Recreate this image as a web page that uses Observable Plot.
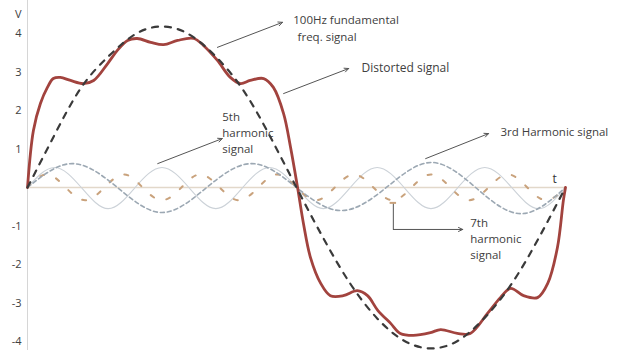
<!DOCTYPE html>
<html>
<head>
<meta charset="utf-8">
<script src="https://cdn.jsdelivr.net/npm/d3@7"></script>
<script src="https://cdn.jsdelivr.net/npm/@observablehq/plot@0.6"></script>
<style>
  body { margin: 0; background: #fff; }
  #chart svg { display: block; }
</style>
</head>
<body>
<div id="chart"></div>
<script>
// One 10 ms period of a 100 Hz supply voltage and its harmonic content (time in ms, volts).

const yTicks = [4, 3, 2, 1, -1, -2, -3, -4];

// 100 Hz fundamental
const fundamentalT = [0, 0.5, 1, 1.5, 2, 2.5, 3, 3.5, 4, 4.5, 5, 5.5, 6, 6.5, 7, 7.5, 8, 8.5, 9, 9.5, 10];
const fundamentalV = [0, 1.36, 2.6, 3.4, 3.98, 4.18, 3.98, 3.4, 2.55, 1.35, 0, -1.32, -2.5, -3.4, -3.98, -4.18, -3.98, -3.38, -2.5, -1.32, 0];

// distorted waveform
const distortedT = [0, 0.11, 0.24, 0.37, 0.48, 0.61, 0.8, 1.04, 1.23, 1.49, 1.67, 1.86, 2.04, 2.29, 2.53, 2.79, 3.09, 3.27, 3.53, 3.77, 3.96, 4.14, 4.39, 4.57, 4.76, 4.89, 5.02,
                    5.13, 5.26, 5.45, 5.63, 5.87, 6.13, 6.32, 6.51, 6.75, 6.93, 7.17, 7.49, 7.68, 7.99, 8.23, 8.55, 8.79, 8.98, 9.22, 9.48, 9.67, 9.85, 9.96, 10];
const distortedV = [0, 1.48, 2.18, 2.6, 2.83, 2.86, 2.78, 2.7, 2.78, 3.22, 3.56, 3.82, 3.87, 3.77, 3.71, 3.82, 3.87, 3.69, 3.3, 2.86, 2.7, 2.78, 2.83, 2.6, 1.92, 1.04, 0,
                    -0.94, -1.82, -2.49, -2.81, -2.81, -2.68, -2.81, -3.19, -3.53, -3.79, -3.84, -3.77, -3.69, -3.79, -3.79, -3.27, -2.86, -2.62, -2.81, -2.86, -2.49, -1.56, -0.34, 0];

// 3rd harmonic (zero crossings and peaks)
const thirdT = [0, 0.83, 1.67, 2.5, 3.33, 4.17, 5, 5.83, 6.67, 7.5, 8.33, 9.17, 10];
const thirdV = [0, 0.62, 0, -0.65, 0, 0.62, 0, -0.6, 0, 0.65, 0, -0.68, 0];

// 5th harmonic
const fifthT = [0, 0.5, 1, 1.5, 2, 2.5, 3, 3.5, 4, 4.5, 5, 5.5, 6, 6.5, 7, 7.5, 8, 8.5, 9, 9.5, 10];
const fifthV = [0, 0.52, 0, -0.55, 0, 0.52, 0, -0.55, 0, 0.52, 0, -0.55, 0, 0.52, 0, -0.55, 0, 0.52, 0, -0.55, 0];

// 7th harmonic
const seventhT = [0, 0.36, 0.71, 1.07, 1.43, 1.79, 2.14, 2.5, 2.86, 3.21, 3.57, 3.93, 4.29, 4.64, 5,
                  5.36, 5.71, 6.07, 6.43, 6.79, 7.14, 7.5, 7.86, 8.21, 8.57, 8.93, 9.29, 9.64, 10];
const seventhV = [0, 0.34, 0, -0.33, 0, 0.34, 0, -0.33, 0, 0.34, 0, -0.33, 0, 0.34, 0,
                  -0.33, 0, 0.34, 0, -0.33, 0, 0.34, 0, -0.33, 0, 0.34, 0, -0.33, 0];

// callout labels and their pointers
const labels = [
  {t: 4.94, v: 4.34, text: "100Hz fundamental"},
  {t: 5.02, v: 3.9, text: "freq. signal"},
  {t: 6.21, v: 3.09, text: "Distorted signal"},
  {t: 3.62, v: 1.83, text: "5th"},
  {t: 3.62, v: 1.41, text: "harmonic"},
  {t: 3.62, v: 0.99, text: "signal"},
  {t: 8.79, v: 1.43, text: "3rd Harmonic signal"},
  {t: 8.23, v: -0.93, text: "7th"},
  {t: 8.23, v: -1.35, text: "harmonic"},
  {t: 8.23, v: -1.77, text: "signal"}
];
const pointers = [
  {t1: 3.53, v1: 3.64, t2: 4.74, v2: 4.29},
  {t1: 4.76, v1: 2.44, t2: 5.97, v2: 3.09},
  {t1: 2.42, v1: 0.62, t2: 3.62, v2: 1.27},
  {t1: 7.4, v1: 0.75, t2: 8.57, v2: 1.4},
  {t1: 6.8, v1: -1.09, t2: 8.09, v2: -1.09}
];
const bracket = [{t1: 6.8, v1: -0.4, t2: 6.8, v2: -1.09}];
const bracketCap = [{t1: 6.74, t2: 6.86, v: -0.4}];

const rows = (ts, vs) => ts.map((t, i) => ({t, v: vs[i]}));

const chart = Plot.plot({
  width: 630,
  height: 350,
  marginLeft: 27,
  marginRight: 65,
  marginTop: 0,
  marginBottom: 0,
  x: {domain: [0, 10], axis: null},
  y: {domain: [-4.234, 4.857], axis: null},
  style: {fontFamily: "'Open Sans', sans-serif", fontSize: "12px", color: "#404040", background: "#fff"},
  marks: [
    Plot.ruleX([0], {stroke: "#d6d6d6", strokeWidth: 1}),
    Plot.ruleY([0], {x1: 0, x2: 10, stroke: "#e2d8ca", strokeWidth: 1.5}),
    Plot.axisY({ticks: yTicks, tickSize: 0, tickPadding: 6, label: null, fontSize: 11, color: "#404040", tickFormat: d => String(d)}),
    Plot.text(["V"], {x: -0.17, y: 4.49, text: d => d, fontSize: 11, fill: "#404040"}),
    Plot.text(["t"], {x: 9.8, y: 0.22, text: d => d, fontSize: 12, fill: "#333333"}),

    Plot.line(rows(fifthT, fifthV), {x: "t", y: "v", curve: "natural", stroke: "#ccd2d8", strokeWidth: 1.1}),
    Plot.line(rows(seventhT, seventhV), {x: "t", y: "v", curve: "natural", stroke: "#c9a27c", strokeWidth: 2, strokeDasharray: "4,13"}),
    Plot.line(rows(thirdT, thirdV), {x: "t", y: "v", curve: "natural", stroke: "#9ca8b3", strokeWidth: 1.6, strokeDasharray: "4,3"}),
    Plot.line(rows(distortedT, distortedV), {x: "t", y: "v", curve: "catmull-rom", stroke: "#a2433e", strokeWidth: 2.8, strokeLinecap: "round"}),
    Plot.line(rows(fundamentalT, fundamentalV), {x: "t", y: "v", curve: "natural", stroke: "#3a3a3a", strokeWidth: 2.2, strokeDasharray: "6,7"}),

    Plot.link(bracket, {x1: "t1", y1: "v1", x2: "t2", y2: "v2", stroke: "#555", strokeWidth: 1}),
    Plot.ruleY(bracketCap, {x1: "t1", x2: "t2", y: "v", stroke: "#c9a27c", strokeWidth: 2}),
    Plot.arrow(pointers, {x1: "t1", y1: "v1", x2: "t2", y2: "v2", stroke: "#555", strokeWidth: 1, headLength: 7, headAngle: 50}),
    Plot.text(labels, {x: "t", y: "v", text: "text", textAnchor: "start", fontSize: d => d.text === "Distorted signal" ? 12 : 11.5, fill: "#404040"})
  ]
});

document.getElementById("chart").appendChild(chart);
</script>
</body>
</html>
